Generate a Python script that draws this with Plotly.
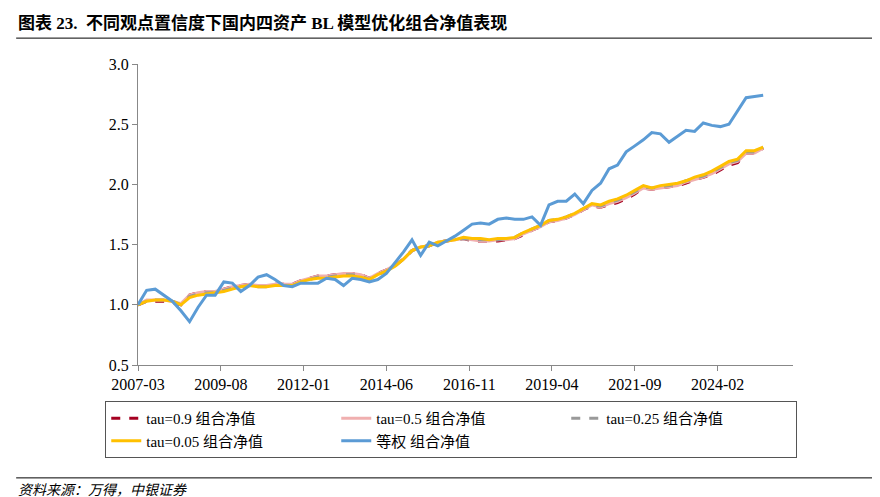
import plotly.graph_objects as go
import pandas as pd

dates = pd.date_range("2007-03-01", periods=74, freq="3MS")
eq = [1.0,1.12,1.13,1.08,1.03,0.95,0.86,0.98,1.08,1.08,1.19,1.18,1.11,1.16,1.23,1.25,1.21,1.16,1.15,1.18,
      1.18,1.18,1.22,1.21,1.16,1.22,1.21,1.19,1.21,1.26,1.35,1.44,1.54,1.41,1.52,1.49,1.53,1.57,1.62,1.67,
      1.68,1.67,1.71,1.72,1.71,1.71,1.73,1.66,1.83,1.86,1.86,1.92,1.84,1.95,2.01,2.13,2.16,2.27,2.32,2.37,
      2.43,2.42,2.35,2.40,2.45,2.44,2.51,2.49,2.48,2.50,2.61,2.72,2.73,2.74]
t005 = [1.0,1.03,1.04,1.04,1.03,1.00,1.06,1.08,1.09,1.10,1.11,1.13,1.15,1.16,1.15,1.15,1.16,1.16,1.16,1.19,
        1.21,1.22,1.22,1.23,1.24,1.24,1.23,1.21,1.25,1.28,1.32,1.38,1.45,1.48,1.49,1.52,1.53,1.54,1.56,1.55,
        1.55,1.54,1.55,1.55,1.56,1.60,1.63,1.66,1.70,1.71,1.73,1.76,1.80,1.84,1.83,1.86,1.88,1.91,1.95,1.99,
        1.97,1.99,2.00,2.01,2.03,2.06,2.08,2.11,2.15,2.19,2.21,2.28,2.28,2.31]
t025 = [1.0,1.03,1.04,1.04,1.03,1.00,1.07,1.09,1.10,1.10,1.12,1.14,1.15,1.16,1.15,1.15,1.16,1.16,1.16,1.19,
        1.21,1.23,1.23,1.24,1.25,1.25,1.24,1.21,1.25,1.28,1.32,1.38,1.45,1.48,1.49,1.52,1.53,1.54,1.55,1.54,
        1.54,1.54,1.54,1.55,1.56,1.60,1.63,1.66,1.70,1.71,1.73,1.76,1.80,1.83,1.82,1.85,1.87,1.90,1.94,1.98,
        1.97,1.98,1.99,2.00,2.03,2.05,2.07,2.10,2.14,2.18,2.20,2.27,2.27,2.31]
t05 = [1.0,1.04,1.04,1.04,1.03,1.01,1.08,1.10,1.11,1.11,1.13,1.15,1.16,1.17,1.16,1.16,1.17,1.17,1.17,1.20,
       1.22,1.24,1.24,1.25,1.26,1.26,1.25,1.22,1.26,1.29,1.33,1.38,1.45,1.48,1.49,1.52,1.53,1.54,1.55,1.54,
       1.53,1.53,1.54,1.54,1.55,1.59,1.62,1.65,1.69,1.70,1.72,1.75,1.79,1.83,1.81,1.84,1.86,1.89,1.93,1.97,
       1.96,1.97,1.98,1.99,2.02,2.04,2.06,2.09,2.13,2.17,2.19,2.26,2.26,2.30]
t09 = [1.0,1.03,1.03,1.03,1.02,1.00,1.08,1.10,1.11,1.11,1.13,1.15,1.16,1.17,1.16,1.16,1.17,1.17,1.17,1.20,
       1.22,1.24,1.24,1.25,1.26,1.26,1.25,1.22,1.26,1.29,1.33,1.38,1.45,1.48,1.49,1.52,1.53,1.54,1.55,1.53,
       1.53,1.53,1.53,1.54,1.55,1.58,1.62,1.65,1.69,1.70,1.72,1.75,1.79,1.82,1.81,1.83,1.85,1.88,1.92,1.97,
       1.96,1.97,1.98,1.99,2.01,2.04,2.06,2.08,2.12,2.16,2.18,2.26,2.26,2.30]

font_fam = "Liberation Serif, Times New Roman, Noto Sans CJK SC, serif"
fig = go.Figure()
fig.add_trace(go.Scatter(x=dates, y=t09, name="tau=0.9 组合净值", mode="lines",
                         line=dict(color="#A50021", width=3, dash="dash")))
fig.add_trace(go.Scatter(x=dates, y=t05, name="tau=0.5 组合净值", mode="lines",
                         line=dict(color="#F0AFAF", width=3)))
fig.add_trace(go.Scatter(x=dates, y=t025, name="tau=0.25 组合净值", mode="lines",
                         line=dict(color="#999999", width=3, dash="dash")))
fig.add_trace(go.Scatter(x=dates, y=t005, name="tau=0.05 组合净值", mode="lines",
                         line=dict(color="#FFC000", width=3)))
fig.add_trace(go.Scatter(x=dates, y=eq, name="等权 组合净值", mode="lines",
                         line=dict(color="#5B9BD5", width=3)))

tickv = ["2007-03-01","2009-08-01","2012-01-01","2014-06-01","2016-11-01","2019-04-01","2021-09-01","2024-02-01"]
fig.update_layout(
    width=880, height=497, plot_bgcolor="white", paper_bgcolor="white",
    margin=dict(l=130, r=95, t=56, b=140),
    font=dict(family=font_fam, size=15, color="black"),
    xaxis=dict(range=["2007-03-01","2026-04-15"], tickvals=tickv, tickformat="%Y-%m",
               showgrid=False, showline=True, linecolor="#888", ticks="outside",
               ticklen=5, tickcolor="#888", tickfont=dict(size=16)),
    yaxis=dict(range=[0.5,3.0], dtick=0.5, tickformat=".1f", showgrid=False, showline=True,
               linecolor="#888", ticks="outside", ticklen=5, tickcolor="#888", tickfont=dict(size=16)),
    legend=dict(orientation="h", x=-0.05, y=-0.12, xanchor="left", yanchor="top",
                entrywidth=185, bordercolor="#555", borderwidth=1, font=dict(size=15),
                tracegroupgap=0),
    showlegend=True,
)
fig.add_annotation(text="<b>图表 23.  不同观点置信度下国内四资产 BL 模型优化组合净值表现</b>",
                   xref="paper", yref="paper", x=-0.186, y=1.095, xanchor="left", yanchor="bottom",
                   showarrow=False, font=dict(size=17))
fig.add_annotation(text="<i>资料来源：万得，中银证券</i>", xref="paper", yref="paper",
                   x=-0.186, y=-0.385, xanchor="left", yanchor="top", showarrow=False, font=dict(size=14))
fig.add_shape(type="line", xref="paper", yref="paper", x0=-0.186, x1=1.13, y0=1.086, y1=1.086,
              line=dict(color="black", width=1))
fig.add_shape(type="line", xref="paper", yref="paper", x0=-0.186, x1=1.13, y0=-0.375, y1=-0.375,
              line=dict(color="black", width=1))
fig.write_html("out.html")
